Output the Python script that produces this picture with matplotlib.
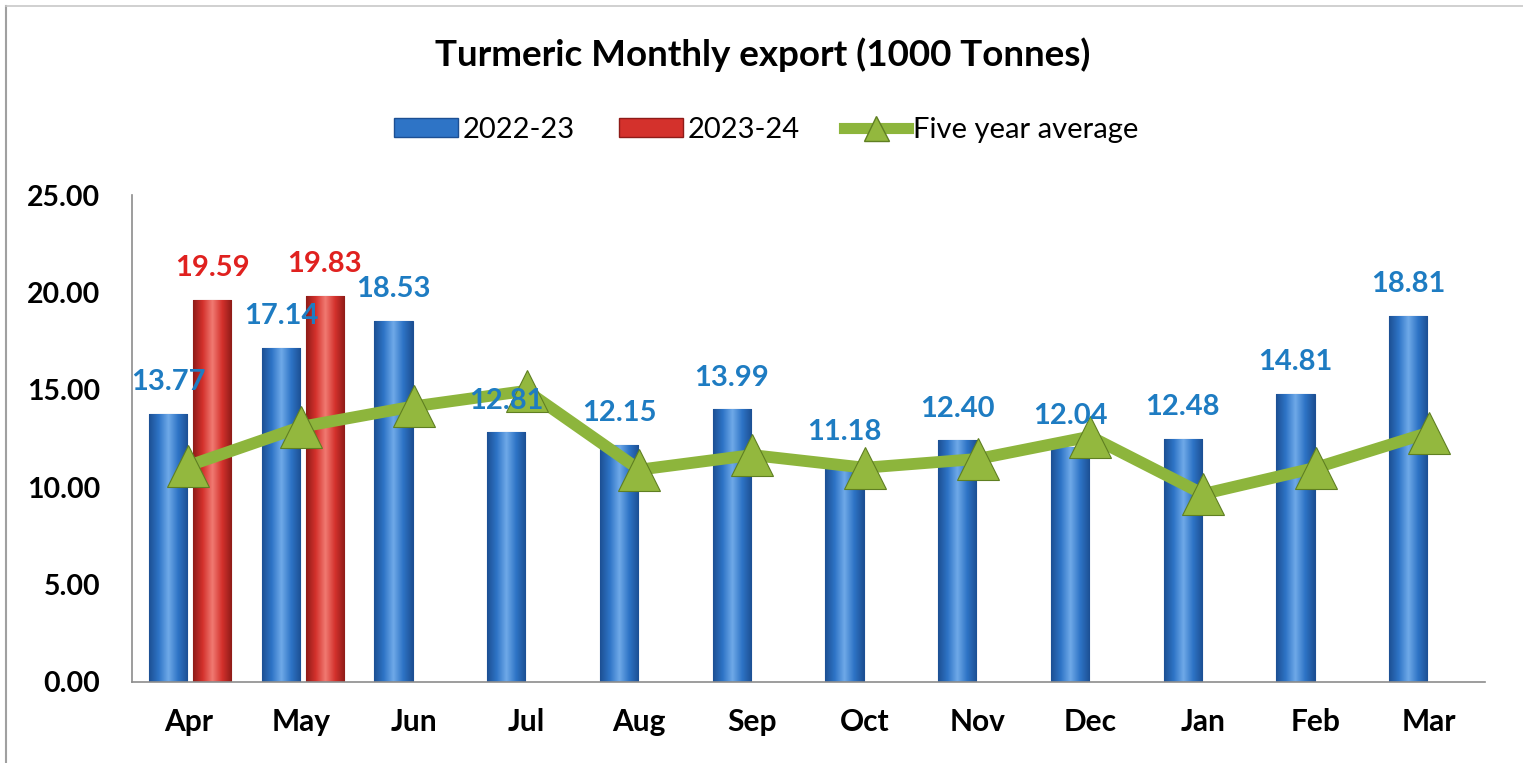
import numpy as np
import matplotlib
matplotlib.use("Agg")
import matplotlib.pyplot as plt
from matplotlib.lines import Line2D
from matplotlib.patches import Patch

months = ["Apr", "May", "Jun", "Jul", "Aug", "Sep", "Oct", "Nov", "Dec", "Jan", "Feb", "Mar"]
exp_2022_23 = [13.77, 17.14, 18.53, 12.81, 12.15, 13.99, 11.18, 12.40, 12.04, 12.48, 14.81, 18.81]
exp_2023_24 = [19.59, 19.83]
five_year_avg = [11.1, 13.1, 14.15, 14.95, 10.9, 11.65, 11.0, 11.45, 12.6, 9.65, 11.0, 12.8]
yticks = [0, 5, 10, 15, 20, 25]

plt.rcParams['font.family'] = ['Lato', 'DejaVu Sans']

W, H, DPI = 1523, 763, 100
fig = plt.figure(figsize=(W / DPI, H / DPI), dpi=DPI)
ax = fig.add_axes([132 / W, 1 - 682 / H, (1485 - 132) / W, (682 - 195) / H])

x = np.arange(len(months))
bw = 0.34
off_b, off_r = -0.18, 0.21

blue_main, blue_dark, blue_light = "#2E74C6", "#1C4F93", "#6FA9E8"
red_main, red_dark, red_light = "#D4312C", "#8E1B18", "#F07A72"


def gradient_bars(bars, dark, main, light):
    for b in bars:
        x0, y0 = b.get_x(), b.get_y()
        w, h = b.get_width(), b.get_height()
        cmap = matplotlib.colors.LinearSegmentedColormap.from_list(
            "g", [dark, main, light, main, dark])
        grad = np.linspace(0, 1, 256).reshape(1, -1)
        im = ax.imshow(grad, cmap=cmap, aspect="auto",
                       extent=(x0, x0 + w, y0, y0 + h), zorder=2)
        im.set_clip_path(b)


bars_b = ax.bar(x + off_b, exp_2022_23, bw, color=blue_main, edgecolor=blue_dark,
                linewidth=0.8, zorder=2)
bars_r = ax.bar(x[:len(exp_2023_24)] + off_r, exp_2023_24, bw, color=red_main,
                edgecolor=red_dark, linewidth=0.8, zorder=2)
gradient_bars(bars_b, blue_dark, blue_main, blue_light)
gradient_bars(bars_r, red_dark, red_main, red_light)

green, green_dark = "#8DB53C", "#5F7F22"
ax.plot(x, five_year_avg, color=green, linewidth=8.5, zorder=3,
        marker="^", markersize=30, markerfacecolor="#93B83E",
        markeredgecolor=green_dark, markeredgewidth=0.8, solid_joinstyle="round")

for xi, v in zip(x + off_b, exp_2022_23):
    ax.annotate(f"{v:.2f}", (xi, v), xytext=(0, 23), textcoords="offset points",
                ha="center", va="center", fontsize=21, fontweight="bold",
                color="#1E7CC2", zorder=5)
for xi, v in zip(x[:len(exp_2023_24)] + off_r, exp_2023_24):
    ax.annotate(f"{v:.2f}", (xi, v), xytext=(0, 23), textcoords="offset points",
                ha="center", va="center", fontsize=21, fontweight="bold",
                color="#E0211F", zorder=5)

ax.set_xlim(-0.5, 11.5)
ax.set_ylim(0, 25)
ax.set_yticks(yticks)
ax.set_yticklabels([f"{t:.2f}" for t in yticks], fontsize=20.5, fontweight="bold")
ax.set_xticks(x)
ax.set_xticklabels(months, fontsize=21.5, fontweight="bold")
ax.tick_params(axis="x", length=0, pad=19)
ax.tick_params(axis="y", length=0, pad=23)
for s in ["top", "right"]:
    ax.spines[s].set_visible(False)
for s in ["left", "bottom"]:
    ax.spines[s].set_color("#8C8C8C")
    ax.spines[s].set_linewidth(1.2)

fig.text(763 / W, 1 - 55 / H, "Turmeric Monthly export (1000 Tonnes)",
         ha="center", va="center", fontsize=26.5, fontweight="bold")

handles = [Patch(facecolor=blue_main, edgecolor=blue_dark),
           Patch(facecolor=red_main, edgecolor=red_dark),
           Line2D([0], [0], color=green, linewidth=8, marker="^", markersize=18,
                  markerfacecolor="#93B83E", markeredgecolor=green_dark)]
fig.legend(handles, ["2022-23", "2023-24", "Five year average"],
           loc="center", bbox_to_anchor=(766 / W, 1 - 130 / H), ncol=3,
           frameon=False, fontsize=21, handlelength=2.2, handleheight=0.6,
           columnspacing=1.5, handletextpad=0.17)

# figure frame (left and top edges)
fig.add_artist(Line2D([6 / W, 6 / W], [0, 1 - 6 / H], transform=fig.transFigure,
                      color="#A0A0A0", linewidth=1.5))
fig.add_artist(Line2D([6 / W, 1], [1 - 6 / H, 1 - 6 / H], transform=fig.transFigure,
                      color="#C8C8C8", linewidth=1.2))

fig.savefig("out.png", dpi=DPI)
